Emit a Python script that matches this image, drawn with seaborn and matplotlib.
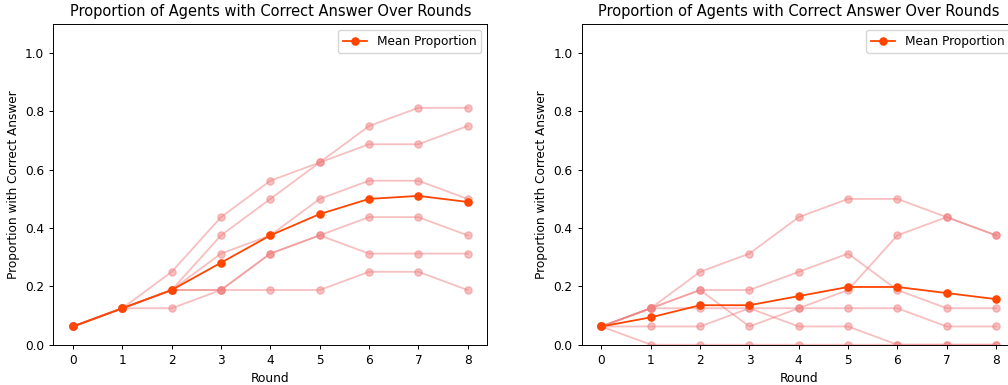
import matplotlib
matplotlib.use("Agg")
import matplotlib.pyplot as plt
import seaborn as sns
import pandas as pd

rounds = [0, 1, 2, 3, 4, 5, 6, 7, 8]

# per-agent-group proportions, left run
left_runs = [
    [0.0625, 0.125, 0.25, 0.4375, 0.5625, 0.625, 0.6875, 0.6875, 0.75],
    [0.0625, 0.125, 0.1875, 0.375, 0.5, 0.625, 0.75, 0.8125, 0.8125],
    [0.0625, 0.125, 0.1875, 0.3125, 0.375, 0.5, 0.5625, 0.5625, 0.5],
    [0.0625, 0.125, 0.1875, 0.1875, 0.3125, 0.375, 0.4375, 0.4375, 0.375],
    [0.0625, 0.125, 0.1875, 0.1875, 0.1875, 0.1875, 0.25, 0.25, 0.1875],
    [0.0625, 0.125, 0.125, 0.1875, 0.3125, 0.375, 0.3125, 0.3125, 0.3125],
]

# right run
right_runs = [
    [0.0625, 0.125, 0.25, 0.3125, 0.4375, 0.5, 0.5, 0.4375, 0.375],
    [0.0625, 0.125, 0.1875, 0.1875, 0.25, 0.3125, 0.1875, 0.125, 0.125],
    [0.0625, 0.125, 0.1875, 0.0625, 0.125, 0.1875, 0.375, 0.4375, 0.375],
    [0.0625, 0.125, 0.125, 0.125, 0.125, 0.125, 0.125, 0.0625, 0.0625],
    [0.0625, 0.0625, 0.0625, 0.125, 0.0625, 0.0625, 0.0, 0.0, 0.0],
    [0.0625, 0.0, 0.0, 0.0, 0.0, 0.0, 0.0, 0.0, 0.0],
]

# the reference looks like a default figure shrunk to ~0.875
plt.rcParams['font.size'] = 8.75
plt.rcParams['axes.linewidth'] = 0.8 * 0.875
plt.rcParams['xtick.major.width'] = 0.8 * 0.875
plt.rcParams['ytick.major.width'] = 0.8 * 0.875
plt.rcParams['xtick.major.size'] = 3.5 * 0.875
plt.rcParams['ytick.major.size'] = 3.5 * 0.875


def draw_panel(ax, runs):
    # individual runs in light red
    for vals in runs:
        sns.lineplot(x=rounds, y=vals, ax=ax, marker='o', color='lightcoral',
                     alpha=0.5, markeredgecolor='lightcoral', markeredgewidth=0.9,
                     markersize=5.25, linewidth=1.3)
    # mean over runs
    df = pd.DataFrame(runs, columns=rounds)
    mean_vals = df.mean(axis=0).values
    sns.lineplot(x=rounds, y=mean_vals, ax=ax, marker='o', color='orangered',
                 markeredgecolor='orangered', markeredgewidth=0.9, markersize=5.25,
                 linewidth=1.3, label='Mean Proportion')
    ax.set_title('Proportion of Agents with Correct Answer Over Rounds', fontsize=10.5)
    ax.set_xlabel('Round')
    ax.set_ylabel('Proportion with Correct Answer')
    ax.set_ylim(0, 1.1)
    ax.set_xlim(-0.4, 8.4)
    ax.set_xticks(rounds)
    ax.set_yticks([0.0, 0.2, 0.4, 0.6, 0.8, 1.0])
    ax.legend(loc='upper right')


fig = plt.figure(figsize=(10.08, 3.85), dpi=100)
ax1 = fig.add_axes([0.0529, 0.1047, 0.4306, 0.833])
ax2 = fig.add_axes([0.5771, 0.1047, 0.4306, 0.833])

draw_panel(ax1, left_runs)
draw_panel(ax2, right_runs)

fig.savefig('out.png', dpi=100)
